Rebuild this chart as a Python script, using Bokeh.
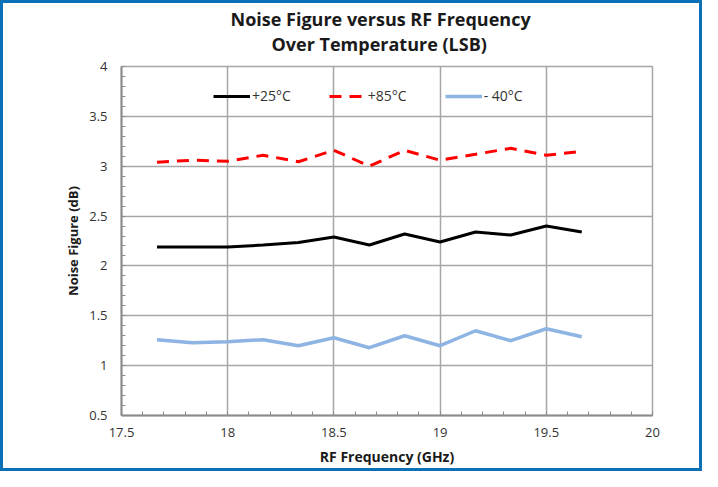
from bokeh.plotting import figure
from bokeh.models import Title, Legend, LegendItem, FixedTicker, Range1d
from bokeh.embed import file_html
from bokeh.resources import INLINE

freq_ghz = [17.667, 17.833, 18.0, 18.167, 18.333, 18.5, 18.667, 18.833, 19.0, 19.167, 19.333, 19.5, 19.667]
nf_p25 = [2.19, 2.19, 2.19, 2.21, 2.235, 2.29, 2.21, 2.32, 2.24, 2.34, 2.31, 2.40, 2.34]
nf_p85 = [3.04, 3.06, 3.05, 3.11, 3.045, 3.16, 3.00, 3.16, 3.06, 3.12, 3.18, 3.11, 3.15]
nf_m40 = [1.26, 1.23, 1.24, 1.26, 1.20, 1.28, 1.18, 1.30, 1.20, 1.35, 1.25, 1.37, 1.29]

x_ticks = [17.5, 18.0, 18.5, 19.0, 19.5, 20.0]
x_tick_labels = ["17.5", "18", "18.5", "19", "19.5", "20"]
y_ticks = [0.5, 1.0, 1.5, 2.0, 2.5, 3.0, 3.5, 4.0]
y_tick_labels = ["0.5", "1", "1.5", "2", "2.5", "3", "3.5", "4"]
series_names = ["+25°C", "+85°C", "- 40°C"]
title_lines = ["Noise Figure versus RF Frequency", "Over Temperature (LSB)"]

FONT = "Open Sans"
GRID = "#a6a6a6"
AXIS = "#8c8c8c"
FRAME_W, FRAME_H = 531, 349
TOP = 63

p = figure(width=702, height=471, output_backend="svg", toolbar_location=None,
           x_range=Range1d(17.5, 20.0), y_range=Range1d(0.5, 4.0),
           min_border_left=118, min_border_right=702 - 118 - FRAME_W,
           min_border_top=TOP, min_border_bottom=471 - TOP - FRAME_H)
p.title = None
p.styles = {"border": "3px solid #0b70b6"}
p.background_fill_color = "white"
p.border_fill_color = "white"
p.outline_line_color = GRID
p.outline_line_width = 1.5

t2 = Title(text=title_lines[1], align="left", offset=150, text_font=FONT,
           text_font_size="18px", text_font_style="bold", text_color="#1a1a1a",
           standoff=22)
t1 = Title(text=title_lines[0], align="left", offset=109, text_font=FONT,
           text_font_size="18px", text_font_style="bold", text_color="#1a1a1a",
           standoff=-25)
p.add_layout(t2, "above")
p.add_layout(t1, "above")

for ax, ticks, labels in ((p.xaxis[0], x_ticks, x_tick_labels), (p.yaxis[0], y_ticks, y_tick_labels)):
    ax.ticker = FixedTicker(ticks=ticks, minor_ticks=[round(ticks[0] + 0.1 * i, 2) for i in range(int(round((ticks[-1] - ticks[0]) / 0.1)) + 1)])
    ax.major_label_overrides = {tk: lb for tk, lb in zip(ticks, labels)}
    ax.axis_line_color = AXIS
    ax.axis_line_width = 2
    ax.major_tick_out = 0
    ax.major_tick_in = 0
    ax.minor_tick_in = 4
    ax.minor_tick_out = 0
    ax.minor_tick_line_color = AXIS
    ax.minor_tick_line_width = 1
    ax.major_label_text_font = FONT
    ax.major_label_text_font_size = "13px"
    ax.major_label_text_color = "#333333"
    ax.axis_label_text_font = FONT
    ax.axis_label_text_font_style = "bold"
    ax.axis_label_text_color = "#1a1a1a"

p.xaxis.axis_label = "RF Frequency (GHz)"
p.xaxis.axis_label_text_font_size = "14px"
p.xaxis.major_label_standoff = 12
p.xaxis.axis_label_standoff = 7
p.yaxis.axis_label = "Noise Figure (dB)"
p.yaxis.axis_label_text_font_size = "13px"
p.yaxis.major_label_standoff = 14
p.yaxis.axis_label_standoff = 4

p.xgrid.ticker = FixedTicker(ticks=x_ticks)
p.ygrid.ticker = FixedTicker(ticks=y_ticks)
p.xgrid.grid_line_color = GRID
p.ygrid.grid_line_color = GRID
p.xgrid.grid_line_width = 1.5
p.ygrid.grid_line_width = 1.5

r1 = p.line(freq_ghz, nf_p25, line_color="black", line_width=3)
r2 = p.line(freq_ghz, nf_p85, line_color="#ff0000", line_width=3, line_dash="12 8")
r3 = p.line(freq_ghz, nf_m40, line_color="#8db4e2", line_width=3.5)

legend = Legend(items=[LegendItem(label=series_names[0], renderers=[r1]),
                       LegendItem(label=series_names[1], renderers=[r2]),
                       LegendItem(label=series_names[2], renderers=[r3])],
                orientation="horizontal", location=(92, FRAME_H - 39),
                glyph_width=37, glyph_height=14, label_standoff=2, spacing=38,
                padding=5, margin=0, border_line_color=None,
                background_fill_alpha=0,
                label_text_font=FONT, label_text_font_size="14px", label_text_color="#333333")
p.add_layout(legend, "center")

open("out.html", "w").write(file_html(p, INLINE))
